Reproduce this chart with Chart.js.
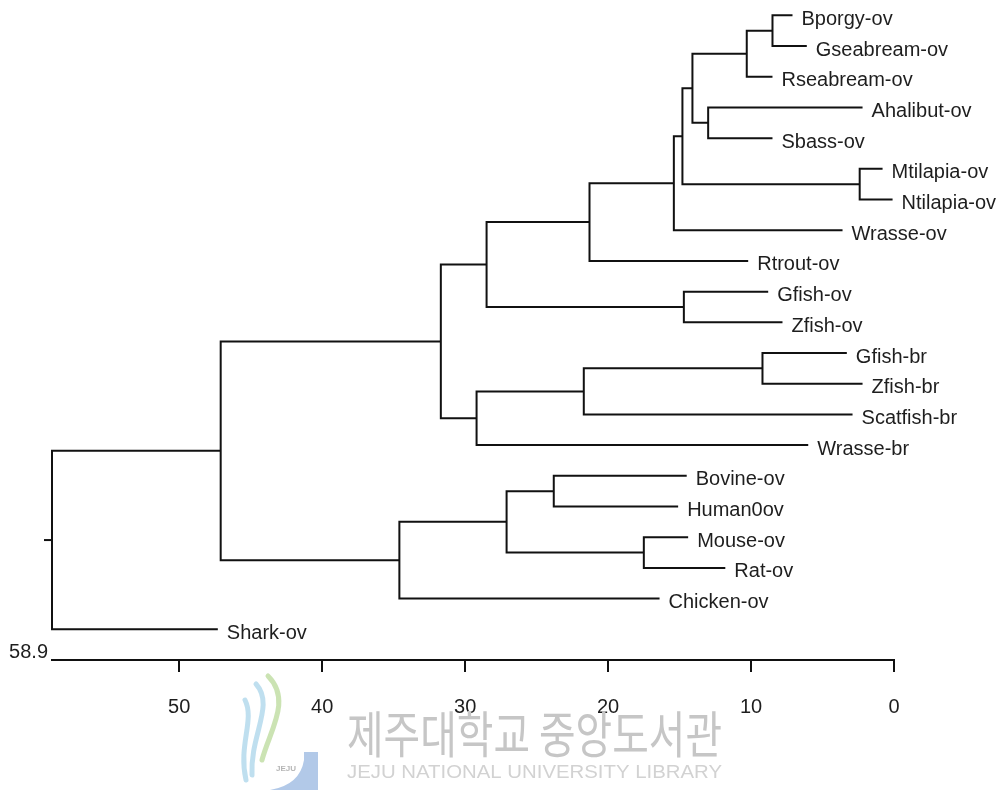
<!DOCTYPE html>
<html>
<head>
<meta charset="utf-8">
<title>Dendrogram</title>
<script src="https://cdn.jsdelivr.net/npm/chart.js@4.4.1/dist/chart.umd.min.js"></script>
<style>
  html, body { margin: 0; padding: 0; background: #fff; }
  #wrap { width: 1003px; height: 790px; }
</style>
</head>
<body>
<div id="wrap"><canvas id="tree" width="1003" height="790"></canvas></div>
<script>
// leaves, top to bottom
var leafNames = ['Bporgy-ov', 'Gseabream-ov', 'Rseabream-ov', 'Ahalibut-ov', 'Sbass-ov',
    'Mtilapia-ov', 'Ntilapia-ov', 'Wrasse-ov', 'Rtrout-ov', 'Gfish-ov', 'Zfish-ov',
    'Gfish-br', 'Zfish-br', 'Scatfish-br', 'Wrasse-br', 'Bovine-ov', 'Human0ov',
    'Mouse-ov', 'Rat-ov', 'Chicken-ov', 'Shark-ov'];
// where each leaf branch ends on the distance axis
var leafDepth = [7.1, 6.1, 8.5, 2.2, 8.5, 0.8, 0.1, 3.6, 10.2, 8.8, 7.8,
    3.3, 2.2, 2.9, 6.0, 14.5, 15.1, 14.4, 11.8, 16.4, 47.3];

// merges, hclust style: -k = leaf k, +k = merge k (1-based)
var mergeA = [-1, 1, -4, 2, -6, 4, 6, 7, -10, 8, -12, 11, 12, 10, -16, -18, 15, 17, 14, 19];
var mergeB = [-2, -3, -5, 3, -7, 5, -8, -9, -11, 9, -13, -14, -15, 13, -17, -19, 16, -20, 18, -21];
var mergeHeight = [8.5, 10.3, 13.0, 14.1, 2.4, 14.8, 15.4, 21.3, 14.7, 28.5,
    9.2, 21.7, 29.2, 31.7, 23.8, 17.5, 27.1, 34.6, 47.1, 58.9];

var xTicks = [0, 10, 20, 30, 40, 50];
var rootLabel = '58.9';

var FONT = "'Liberation Sans', Arial, sans-serif";
var nodeY = [];

function nodeInfo(k) {
    if (k < 0) return {x: leafDepth[-k - 1], y: -k - 1};
    return {x: mergeHeight[k - 1], y: nodeY[k - 1]};
}

var datasets = [];
for (var i = 0; i < mergeA.length; i++) {
    var a = nodeInfo(mergeA[i]);
    var b = nodeInfo(mergeB[i]);
    var h = mergeHeight[i];
    nodeY.push((a.y + b.y) / 2);
    datasets.push({
        data: [{x: a.x, y: a.y}, {x: h, y: a.y}, {x: h, y: b.y}, {x: b.x, y: b.y}],
        showLine: true,
        borderColor: '#111',
        borderWidth: 2,
        pointRadius: 0,
        tension: 0,
        clip: false
    });
}

var leafLabels = {
    id: 'leafLabels',
    afterDatasetsDraw: function (chart) {
        var ctx = chart.ctx;
        var xs = chart.scales.x, ys = chart.scales.y;
        ctx.save();
        ctx.fillStyle = '#1e1e1e';
        ctx.font = '20px ' + FONT;
        ctx.textBaseline = 'middle';
        ctx.textAlign = 'left';
        for (var i = 0; i < leafNames.length; i++) {
            ctx.fillText(leafNames[i], xs.getPixelForValue(leafDepth[i]) + 9, ys.getPixelForValue(i) + 4);
        }
        // root stub
        var last = mergeHeight.length - 1;
        var rx = xs.getPixelForValue(mergeHeight[last]);
        var ry = ys.getPixelForValue(nodeY[last]);
        ctx.strokeStyle = '#111';
        ctx.lineWidth = 2;
        ctx.beginPath();
        ctx.moveTo(rx - 8, ry);
        ctx.lineTo(rx, ry);
        ctx.stroke();
        // root distance at the left end of the axis
        ctx.textAlign = 'right';
        ctx.fillText(rootLabel, rx - 4, chart.chartArea.bottom - 8);
        ctx.restore();
    }
};

var watermark = {
    id: 'watermark',
    afterDraw: function (chart) {
        var ctx = chart.ctx;
        ctx.save();
        // logo swooshes
        ctx.lineCap = 'round';
        ctx.lineWidth = 5;
        ctx.strokeStyle = 'rgba(190,220,160,0.8)';
        ctx.beginPath();
        ctx.moveTo(268, 676);
        ctx.bezierCurveTo(292, 700, 270, 730, 262, 760);
        ctx.stroke();
        ctx.strokeStyle = 'rgba(175,215,235,0.8)';
        ctx.beginPath();
        ctx.moveTo(256, 684);
        ctx.bezierCurveTo(275, 705, 250, 735, 252, 775);
        ctx.stroke();
        ctx.beginPath();
        ctx.moveTo(245, 700);
        ctx.bezierCurveTo(255, 720, 238, 745, 246, 780);
        ctx.stroke();
        ctx.fillStyle = 'rgba(170,195,230,0.9)';
        ctx.beginPath();
        ctx.moveTo(304, 752);
        ctx.lineTo(318, 752);
        ctx.lineTo(318, 790);
        ctx.lineTo(270, 790);
        ctx.quadraticCurveTo(300, 785, 304, 760);
        ctx.closePath();
        ctx.fill();
        ctx.fillStyle = 'rgba(150,150,150,0.7)';
        ctx.font = 'bold 8px ' + FONT;
        ctx.textAlign = 'center';
        ctx.fillText('JEJU', 286, 771);
        // library name
        ctx.fillStyle = '#c6c6c6';
        ctx.textAlign = 'left';
        ctx.textBaseline = 'middle';
        ctx.font = "37px 'Noto Sans CJK KR', sans-serif";
        ctx.translate(347, 734);
        var kw = ctx.measureText('제주대학교 중앙도서관').width;
        ctx.scale(375 / kw, 1.35);
        ctx.fillText('제주대학교 중앙도서관', 0, 0);
        ctx.setTransform(1, 0, 0, 1, 0, 0);
        ctx.fillStyle = '#d2d2d2';
        ctx.font = '16px ' + FONT;
        ctx.translate(347, 773);
        var ew = ctx.measureText('JEJU NATIONAL UNIVERSITY LIBRARY').width;
        ctx.scale(375 / ew, 1.2);
        ctx.fillText('JEJU NATIONAL UNIVERSITY LIBRARY', 0, 0);
        ctx.restore();
    }
};

new Chart(document.getElementById('tree').getContext('2d'), {
    type: 'scatter',
    data: {datasets: datasets},
    options: {
        responsive: false,
        animation: false,
        layout: {padding: {left: 52, right: 109, top: 0, bottom: 48}},
        plugins: {legend: {display: false}, tooltip: {enabled: false}},
        scales: {
            x: {
                type: 'linear',
                position: 'bottom',
                reverse: true,
                min: 0,
                max: mergeHeight[mergeHeight.length - 1],
                afterBuildTicks: function (scale) {
                    scale.ticks = xTicks.map(function (v) { return {value: v}; });
                },
                ticks: {
                    color: '#1e1e1e',
                    font: {family: FONT, size: 20},
                    padding: 23,
                    maxRotation: 0
                },
                grid: {drawOnChartArea: false, drawTicks: true, tickLength: 12, color: '#111', lineWidth: 2},
                border: {display: true, color: '#111', width: 2}
            },
            y: {
                type: 'linear',
                display: false,
                reverse: true,
                min: -0.5,
                max: 21
            }
        }
    },
    plugins: [leafLabels, watermark]
});
</script>
</body>
</html>
